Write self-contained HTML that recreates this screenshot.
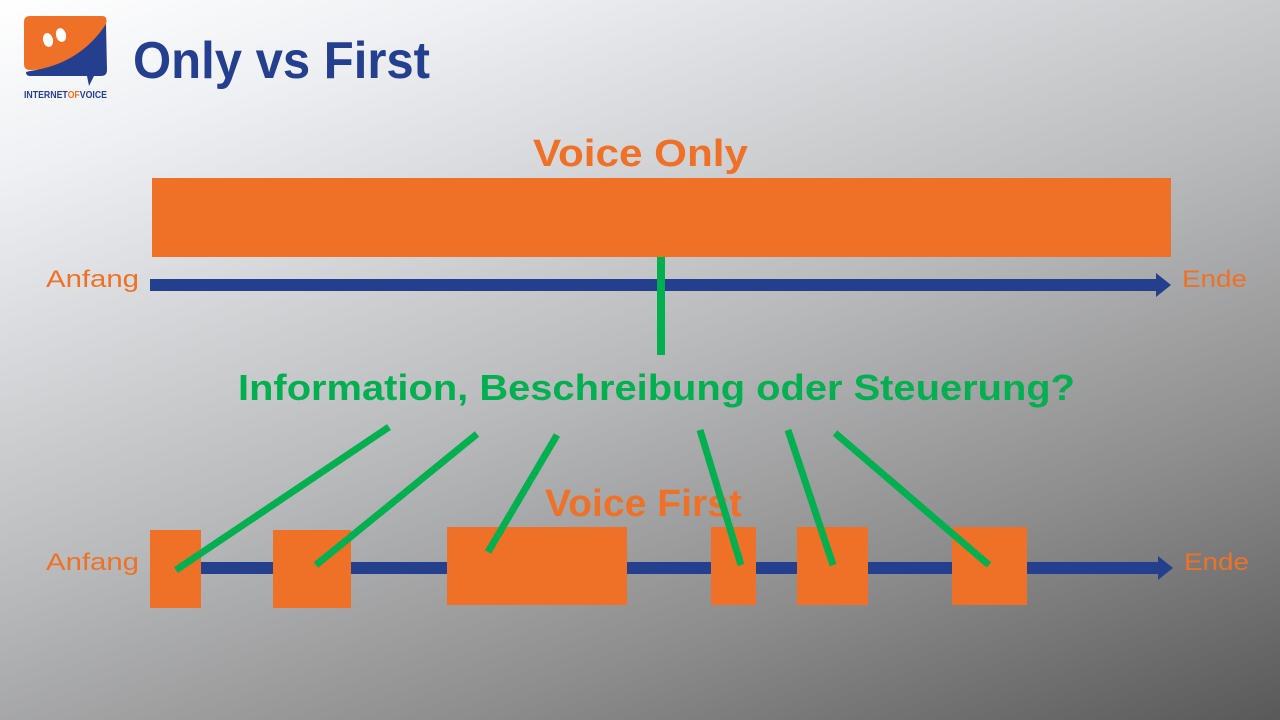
<!DOCTYPE html>
<html><head><meta charset="utf-8"><style>
body{margin:0;width:1280px;height:720px;overflow:hidden;font-family:"Liberation Sans",sans-serif;}
.bg{position:absolute;left:0;top:0;width:1280px;height:720px;background:linear-gradient(160deg,#ffffff 0%,#eef0f3 15%,#b9babc 50%,#8d8d8d 75%,#595959 100%);}
</style></head><body>
<div class="bg"></div>
<svg width="1280" height="720" style="position:absolute;left:0;top:0">
<path d="M30,16 L102,16 Q108,16 106,24 L96,62 Q94,68 88,68 L30,70 Q24,70 24,64 L24,22 Q24,16 30,16Z" fill="#ef7127"/>
<path d="M106,24 L107,70 Q107,76 101,76 L94,76 L89,86 L87,76 L30,76 Q26,76 26,72 L30,71 Q80,64 106,24Z" fill="#253f8f"/>
<ellipse cx="48" cy="40" rx="5" ry="7" fill="#fff" transform="rotate(-15 48 40)"/>
<ellipse cx="61" cy="35" rx="5" ry="7" fill="#fff" transform="rotate(-15 61 35)"/>
<text x="24" y="98" font-size="10" font-weight="bold" fill="#253f8f" textLength="83" lengthAdjust="spacingAndGlyphs">INTERNET<tspan fill="#ef7127">OF</tspan>VOICE</text>
<text x="133" y="78" font-size="52" font-weight="bold" fill="#253f8f" textLength="297" lengthAdjust="spacingAndGlyphs">Only vs First</text>

<text x="533" y="166" font-size="38" font-weight="bold" fill="#ef7127" textLength="215" lengthAdjust="spacingAndGlyphs">Voice Only</text>
<rect x="152" y="178" width="1019" height="79" fill="#ef7127"/>
<rect x="150" y="279" width="1010" height="12" fill="#253f8f"/>
<polygon points="1156,273 1171,285 1156,297" fill="#253f8f"/>
<text x="46" y="287" font-size="24" fill="#ef7127" textLength="93" lengthAdjust="spacingAndGlyphs">Anfang</text>
<text x="1182" y="287" font-size="24" fill="#ef7127" textLength="65" lengthAdjust="spacingAndGlyphs">Ende</text>
<line x1="661" y1="257" x2="661" y2="355" stroke="#00b050" stroke-width="8"/>
<text x="238" y="400" font-size="36" font-weight="bold" fill="#00b050" textLength="837" lengthAdjust="spacingAndGlyphs">Information, Beschreibung oder Steuerung?</text>

<text x="545" y="516" font-size="38" font-weight="bold" fill="#ef7127" textLength="197" lengthAdjust="spacingAndGlyphs">Voice First</text>
<rect x="150" y="562" width="1010" height="12" fill="#253f8f"/>
<polygon points="1158,556 1173,568 1158,580" fill="#253f8f"/>
<text x="46" y="570" font-size="24" fill="#ef7127" textLength="93" lengthAdjust="spacingAndGlyphs">Anfang</text>
<text x="1184" y="570" font-size="24" fill="#ef7127" textLength="65" lengthAdjust="spacingAndGlyphs">Ende</text>
<g fill="#ef7127">
<rect x="150" y="530" width="51" height="78"/>
<rect x="273" y="530" width="78" height="78"/>
<rect x="447" y="527" width="180" height="78"/>
<rect x="711" y="527" width="45" height="78"/>
<rect x="797" y="527" width="71" height="78"/>
<rect x="952" y="527" width="75" height="78"/>
</g>
<g stroke="#00b050" stroke-width="7">
<line x1="389" y1="427" x2="176" y2="570"/>
<line x1="477" y1="434" x2="316" y2="565"/>
<line x1="557" y1="435" x2="488" y2="552"/>
<line x1="700" y1="430" x2="741" y2="565"/>
<line x1="788" y1="430" x2="833" y2="565"/>
<line x1="835" y1="433" x2="989" y2="565"/>
</g>
</svg>
</body></html>
